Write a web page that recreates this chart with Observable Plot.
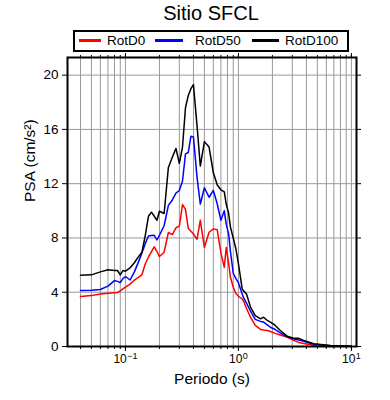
<!DOCTYPE html>
<html>
<head>
<meta charset="utf-8">
<script src="https://cdn.jsdelivr.net/npm/d3@7"></script>
<script src="https://cdn.jsdelivr.net/npm/@observablehq/plot@0.6"></script>
<style>
  body { margin: 0; background: white; font-family: "Liberation Sans", Arial, sans-serif; }
  #head { position: relative; width: 390px; height: 52px; }
  #title { position: absolute; top: 2px; left: 211px; transform: translateX(-50%); font-size: 20px; white-space: nowrap; }
  #legend { position: absolute; left: 73px; top: 30px; width: 276px; height: 22px; border: 2px solid black; box-sizing: border-box; }
  .sw { position: absolute; top: 7px; height: 3px; }
  .lt { position: absolute; top: 0; line-height: 18px; font-size: 13.5px; white-space: nowrap; }
</style>
</head>
<body>
<div id="head">
  <div id="title"></div>
  <div id="legend"></div>
</div>
<div id="chart"></div>
<script>
const titleText = "Sitio SFCL";
const seriesNames = ["RotD0", "RotD50", "RotD100"];
const seriesColors = ["#ff0000", "#0000ff", "#000000"];

const periods = [0.04, 0.05, 0.06, 0.07, 0.08, 0.085, 0.09, 0.095, 0.1, 0.11, 0.12, 0.13, 0.14, 0.15, 0.16, 0.17, 0.18, 0.19, 0.2, 0.22, 0.24, 0.26, 0.28, 0.3, 0.32, 0.34, 0.36, 0.38, 0.4, 0.43, 0.46, 0.5, 0.55, 0.6, 0.65, 0.7, 0.75, 0.78, 0.82, 0.85, 0.9, 0.95, 1.0, 1.08, 1.11, 1.18, 1.28, 1.41, 1.57, 1.67, 1.8, 1.92, 2.12, 2.35, 2.7, 3.09, 3.42, 3.78, 4.64, 6.52, 10];

const rotD0 = [3.68, 3.75, 3.87, 3.93, 3.97, 3.98, 4.1, 4.25, 4.37, 4.6, 4.9, 5.1, 5.3, 6.1, 6.6, 7.0, 7.35, 7.0, 6.63, 6.95, 8.4, 8.25, 8.75, 8.87, 10.46, 10.1, 8.7, 8.5, 8.3, 7.9, 9.3, 7.3, 8.42, 8.67, 8.6, 6.9, 5.84, 7.3, 6.1, 5.1, 4.37, 3.9, 3.7, 3.5, 3.35, 2.8, 2.16, 1.55, 1.26, 1.22, 1.18, 1.1, 0.97, 0.85, 0.69, 0.45, 0.3, 0.22, 0.1, 0.04, 0.02];

const rotD50 = [4.13, 4.15, 4.2, 4.45, 4.86, 4.8, 4.72, 5.0, 5.16, 4.9, 5.5, 6.2, 6.9, 7.6, 8.15, 8.18, 8.2, 7.85, 8.2, 8.9, 10.4, 10.8, 11.3, 11.5, 12.2, 14.2, 14.3, 15.5, 15.45, 12.5, 10.5, 11.7, 11.0, 11.5, 10.5, 9.3, 10.0, 9.0, 8.3, 7.0, 5.4, 5.0, 4.7, 3.87, 3.6, 3.2, 2.6, 2.0, 1.85, 1.8, 1.6, 1.42, 1.25, 1.0, 0.72, 0.56, 0.48, 0.38, 0.17, 0.06, 0.02];

const rotD100 = [5.25, 5.28, 5.5, 5.65, 5.6, 5.6, 5.28, 5.6, 5.55, 5.8, 6.17, 6.6, 6.95, 8.2, 9.6, 9.9, 9.6, 9.3, 9.97, 9.8, 13.2, 13.95, 14.6, 13.5, 14.7, 17.6, 18.5, 19.0, 19.3, 16.3, 13.3, 15.1, 14.7, 12.8, 11.9, 11.55, 11.4, 10.5, 9.8, 8.8, 8.0, 7.2, 6.1, 4.25, 4.1, 3.87, 2.9, 2.28, 2.04, 2.16, 1.92, 1.8, 1.55, 1.18, 0.76, 0.61, 0.6, 0.44, 0.2, 0.07, 0.02];

const xMajorTicks = [0.1, 1, 10];
const xMajorBase = "10";
const xMajorExponents = ["\u22121", "0", "1"];
const yTicks = [0, 4, 8, 12, 16, 20];
const xLabel = "Periodo (s)";
const yLabel = "PSA (cm/s\u00B2)";

const xDomain = [0.0307, 11.1];
const xMinor = [];
for (const dec of [0.01, 0.1, 1, 10]) {
  for (let k = 1; k <= 9; k++) {
    const v = +(dec * k).toPrecision(3);
    if (v >= xDomain[0] && v <= xDomain[1]) xMinor.push(v);
  }
}

document.getElementById("title").textContent = titleText;
const legend = document.getElementById("legend");
const swPos = [[4, 22], [80, 28], [177, 27]];
const txtPos = [32, 120, 210];
seriesNames.forEach((n, i) => {
  const s = document.createElement("div");
  s.className = "sw";
  s.style.left = swPos[i][0] + "px";
  s.style.width = swPos[i][1] + "px";
  s.style.background = seriesColors[i];
  legend.appendChild(s);
  const t = document.createElement("div");
  t.className = "lt";
  t.style.left = txtPos[i] + "px";
  t.textContent = n;
  legend.appendChild(t);
});

const seriesValues = [rotD0, rotD50, rotD100];
const data = [];
seriesValues.forEach((vals, i) => {
  periods.forEach((p, j) => data.push({series: seriesNames[i], T: p, v: vals[j]}));
});

// superscript tick labels: base "10" + small exponent, centred as a whole on the tick
const baseFont = 12, expFont = 9;
const baseW = 2 * 0.556 * baseFont;
const expW = e => [...e].reduce((s, c) => s + (c === "\u2212" ? 0.584 : 0.556), 0) * expFont;
const labelMarks = [];
xMajorTicks.forEach((t, i) => {
  const e = xMajorExponents[i];
  const total = baseW + 0.4 + expW(e);
  labelMarks.push(Plot.text([t], {x: d => d, text: () => xMajorBase, frameAnchor: "bottom", textAnchor: "start", dx: -total / 2, dy: 16.5, fontSize: baseFont}));
  labelMarks.push(Plot.text([t], {x: d => d, text: () => e, frameAnchor: "bottom", textAnchor: "start", dx: -total / 2 + baseW + 0.4, dy: 12, fontSize: expFont}));
});

const chart = Plot.plot({
  width: 390,
  height: 348,
  marginTop: 5,
  marginBottom: 54,
  marginLeft: 67,
  marginRight: 34,
  style: {fontFamily: "Liberation Sans, Arial, sans-serif", fontSize: "13.5px", background: "white", color: "black"},
  x: {type: "log", domain: xDomain},
  y: {domain: [0, 21.3]},
  marks: [
    Plot.ruleX(xMinor, {stroke: "#999", strokeWidth: 1}),
    Plot.ruleY(yTicks.filter(d => d > 0), {stroke: "#999", strokeWidth: 1}),
    ...seriesNames.map((n, i) => Plot.line(data.filter(d => d.series === n), {x: "T", y: "v", stroke: seriesColors[i], strokeWidth: 1.5})),
    Plot.axisX({ticks: xMinor, tickSize: 3, tickFormat: () => "", label: null}),
    Plot.axisX({ticks: xMajorTicks, tickSize: 5, tickFormat: () => "", label: null}),
    Plot.axisX({anchor: "top", ticks: xMinor, tickSize: 3, tickFormat: () => "", label: null}),
    Plot.axisX({anchor: "top", ticks: xMajorTicks, tickSize: 5, tickFormat: () => "", label: null}),
    Plot.axisY({ticks: yTicks, tickSize: 5, tickPadding: 4, fontSize: 13.5, tickFormat: d => String(d), label: null}),
    Plot.axisY({anchor: "right", ticks: yTicks, tickSize: 4, tickFormat: () => "", label: null}),
    Plot.frame({stroke: "black", strokeWidth: 2}),
    ...labelMarks,
    Plot.text([xLabel], {text: d => d, frameAnchor: "bottom", dy: 37, fontSize: 15.5}),
    Plot.text([yLabel], {text: d => d, frameAnchor: "left", dx: -37, rotate: -90, fontSize: 15.5})
  ]
});
document.getElementById("chart").appendChild(chart);
</script>
</body>
</html>
